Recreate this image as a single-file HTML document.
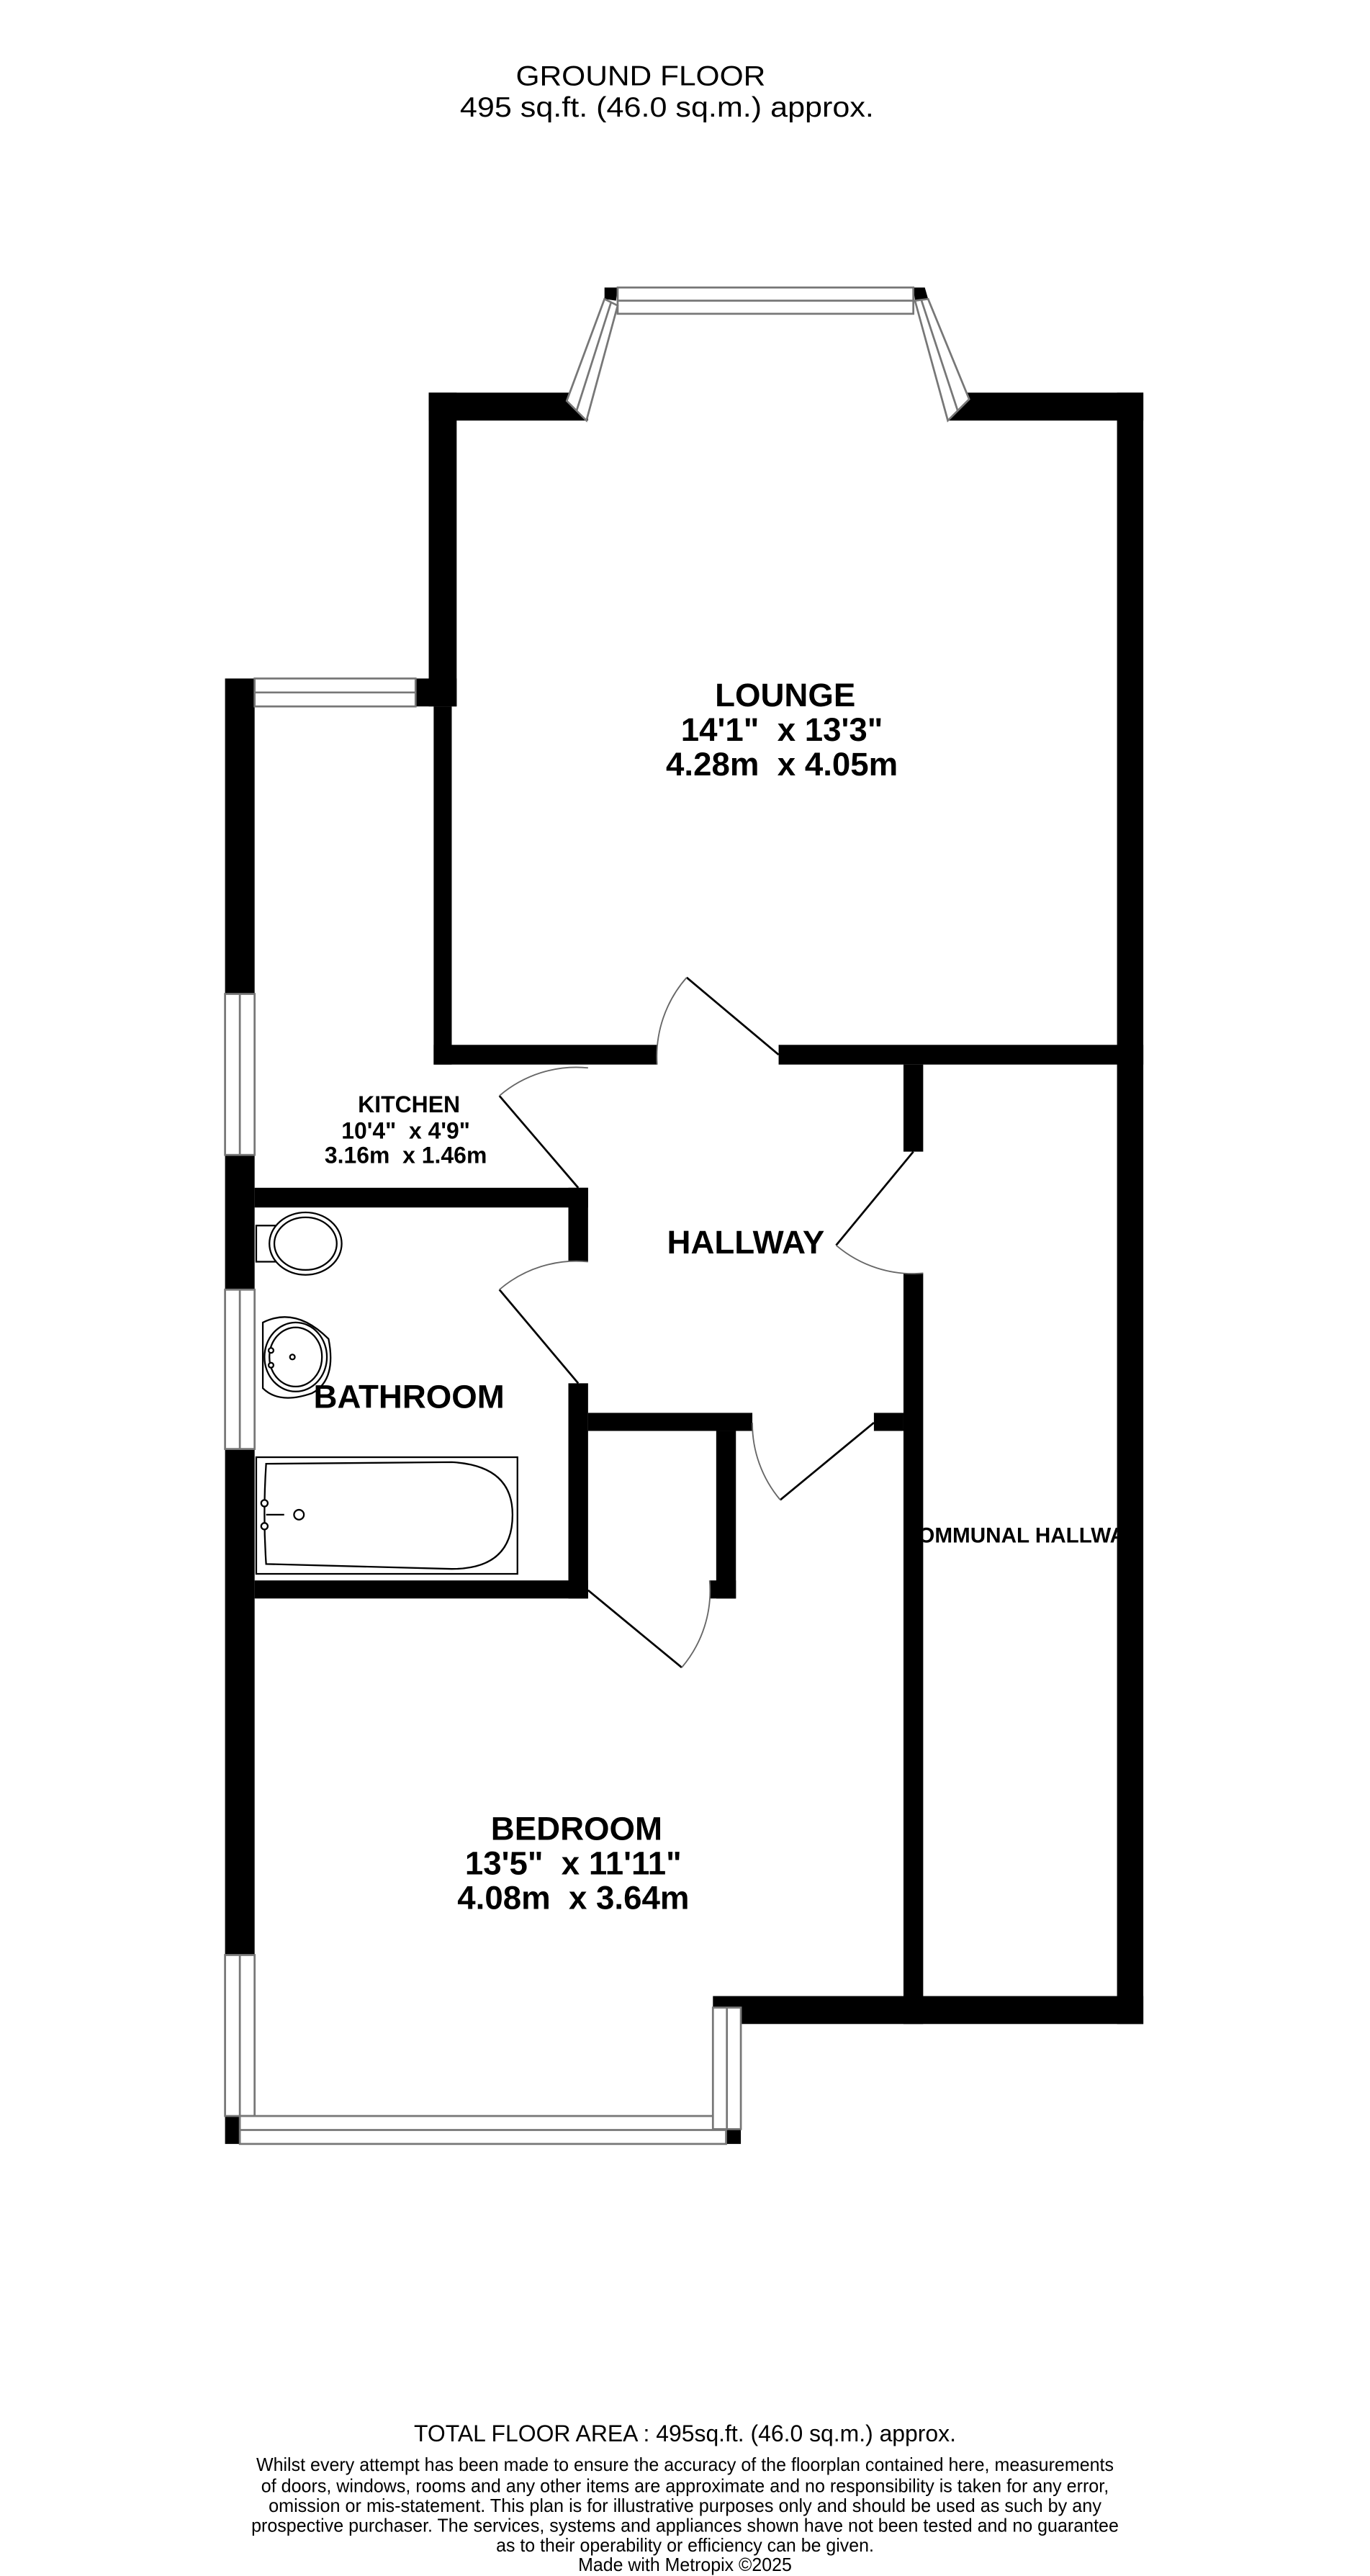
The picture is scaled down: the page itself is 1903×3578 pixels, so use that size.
<!DOCTYPE html>
<html><head><meta charset="utf-8"><style>
html,body{margin:0;padding:0;background:#fff}
svg{display:block}
text{font-family:"Liberation Sans",sans-serif;fill:#000}
</style></head><body>
<svg width="1903" height="3578" viewBox="0 0 834 1568" preserveAspectRatio="none" xmlns="http://www.w3.org/2000/svg">
<defs><clipPath id="cc"><rect x="562" y="900" width="118" height="60"/></clipPath></defs>
<rect width="834" height="1568" fill="#fff"/>
<text x="390" y="52" font-size="17" text-anchor="middle" textLength="152" lengthAdjust="spacingAndGlyphs">GROUND FLOOR</text>
<text x="406" y="71" font-size="17" text-anchor="middle" textLength="252" lengthAdjust="spacingAndGlyphs">495 sq.ft. (46.0 sq.m.) approx.</text>

<g fill="#000">
<rect x="261" y="239" width="97" height="17"/>
<rect x="577" y="239" width="119" height="17"/>
<rect x="680" y="239" width="16" height="993"/>
<rect x="261" y="239" width="17" height="191"/>
<rect x="264" y="430" width="11" height="218"/>
<rect x="253" y="413" width="25" height="17"/>
<rect x="264" y="636" width="136" height="12"/>
<rect x="474" y="636" width="222" height="12"/>
<rect x="137" y="413" width="18" height="192"/>
<rect x="137" y="703" width="18" height="82"/>
<rect x="137" y="882" width="18" height="308"/>
<rect x="137" y="1288" width="9" height="17"/>
<rect x="442" y="1296" width="9" height="9"/>
<rect x="155" y="723" width="203" height="12"/>
<rect x="346" y="723" width="12" height="45"/>
<rect x="346" y="842" width="12" height="131"/>
<rect x="155" y="962" width="203" height="11"/>
<rect x="358" y="860" width="100" height="11"/>
<rect x="436" y="871" width="12" height="102"/>
<rect x="432" y="962" width="16" height="11"/>
<rect x="550" y="648" width="12" height="53"/>
<rect x="550" y="775" width="12" height="457"/>
<rect x="532" y="860" width="18" height="11"/>
<rect x="434" y="1215" width="262" height="17"/>
<polygon points="368,175 376,175 375,183 368,182"/>
<polygon points="556,175 563,175 565,182 557,183"/>
</g>

<g fill="#fff" stroke="#777" stroke-width="1.2">
<rect x="155" y="413" width="98" height="17"/>
<line x1="155" y1="421.5" x2="253" y2="421.5"/>
<rect x="137" y="605" width="18" height="98"/>
<line x1="146" y1="605" x2="146" y2="703"/>
<rect x="137" y="785" width="18" height="97"/>
<line x1="146" y1="785" x2="146" y2="882"/>
<rect x="137" y="1190" width="18" height="98"/>
<line x1="146" y1="1190" x2="146" y2="1288"/>
<rect x="146" y="1288" width="296" height="17"/>
<line x1="146" y1="1296.5" x2="442" y2="1296.5"/>
<rect x="434" y="1222" width="17" height="74"/>
<line x1="442.5" y1="1222" x2="442.5" y2="1296"/>
<rect x="376" y="175" width="180" height="16"/>
<line x1="376" y1="183" x2="556" y2="183"/>
<polygon points="368,182 376,186 357,256 345,244"/>
<line x1="372" y1="184" x2="351" y2="250"/>
<polygon points="557,183 565,182 590,243 577,256"/>
<line x1="561" y1="183" x2="583" y2="250"/>
</g>

<g fill="none" stroke="#000" stroke-width="1.2">
<line x1="474" y1="642" x2="418" y2="595"/>
<path d="M418,595 A73,73 0 0 0 400,648" stroke="#666" stroke-width="0.8"/>
<line x1="352" y1="723" x2="304" y2="667"/>
<path d="M304,667 A72,72 0 0 1 358,650" stroke="#666" stroke-width="0.8"/>
<line x1="352" y1="842" x2="304" y2="785"/>
<path d="M304,785 A72,72 0 0 1 358,768" stroke="#666" stroke-width="0.8"/>
<line x1="556" y1="701" x2="509" y2="758"/>
<path d="M509,758 A72,72 0 0 0 562,775" stroke="#666" stroke-width="0.8"/>
<line x1="532" y1="866" x2="475" y2="913"/>
<path d="M475,913 A72,72 0 0 1 458,866" stroke="#666" stroke-width="0.8"/>
<line x1="358" y1="968" x2="415" y2="1015"/>
<path d="M415,1015 A72,72 0 0 0 432,962" stroke="#666" stroke-width="0.8"/>
</g>

<g fill="#fff" stroke="#000" stroke-width="1">
<rect x="156" y="746" width="14" height="22"/>
<ellipse cx="186" cy="757" rx="22" ry="19"/>
<ellipse cx="186" cy="757" rx="19" ry="16"/>
<path d="M160,805 Q180,795 200,815 Q205,840 190,848 Q170,855 160,845 Z"/>
<ellipse cx="180" cy="826" rx="19" ry="21"/>
<ellipse cx="180" cy="826" rx="16" ry="18"/>
<rect x="156" y="887" width="159" height="71"/>
<path d="M162,891 L275,890 Q312,892 312,922 Q312,955 275,955 L162,952 Q160,922 162,891 Z"/>
<circle cx="182" cy="922" r="3"/>
<line x1="162" y1="922" x2="173" y2="922"/>
<circle cx="161" cy="915" r="2"/>
<circle cx="161" cy="929" r="2"/>
<circle cx="178" cy="826" r="1.5"/>
<circle cx="165" cy="822" r="1.5"/>
<circle cx="165" cy="831" r="1.5"/>
</g>

<g text-anchor="middle" font-weight="bold">
<text x="478" y="430" font-size="20">LOUNGE</text>
<text x="476" y="451" font-size="20">14'1"&#160; x 13'3"</text>
<text x="476" y="472" font-size="20">4.28m&#160; x 4.05m</text>
<text x="249" y="677" font-size="14">KITCHEN</text>
<text x="247" y="693" font-size="14">10'4"&#160; x 4'9"</text>
<text x="247" y="708" font-size="14">3.16m&#160; x 1.46m</text>
<text x="454" y="763" font-size="20">HALLWAY</text>
<text x="249" y="857" font-size="20">BATHROOM</text>
<text x="351" y="1120" font-size="20">BEDROOM</text>
<text x="349" y="1141" font-size="20">13'5"&#160; x 11'11"</text>
<text x="349" y="1162" font-size="20">4.08m&#160; x 3.64m</text>
<g clip-path="url(#cc)"><text x="621" y="939" font-size="13">COMMUNAL HALLWAY</text></g>
</g>

<g text-anchor="middle">
<text x="417" y="1486" font-size="14" textLength="330" lengthAdjust="spacingAndGlyphs">TOTAL FLOOR AREA : 495sq.ft. (46.0 sq.m.) approx.</text>
<text x="417" y="1504" font-size="11.5" textLength="522" lengthAdjust="spacingAndGlyphs">Whilst every attempt has been made to ensure the accuracy of the floorplan contained here, measurements</text>
<text x="417" y="1517" font-size="11.5" textLength="516" lengthAdjust="spacingAndGlyphs">of doors, windows, rooms and any other items are approximate and no responsibility is taken for any error,</text>
<text x="417" y="1529" font-size="11.5" textLength="507" lengthAdjust="spacingAndGlyphs">omission or mis-statement. This plan is for illustrative purposes only and should be used as such by any</text>
<text x="417" y="1541" font-size="11.5" textLength="528" lengthAdjust="spacingAndGlyphs">prospective purchaser. The services, systems and appliances shown have not been tested and no guarantee</text>
<text x="417" y="1553" font-size="11.5" textLength="230" lengthAdjust="spacingAndGlyphs">as to their operability or efficiency can be given.</text>
<text x="417" y="1565" font-size="11.5" textLength="130" lengthAdjust="spacingAndGlyphs">Made with Metropix ©2025</text>
</g>
</svg>
</body></html>
